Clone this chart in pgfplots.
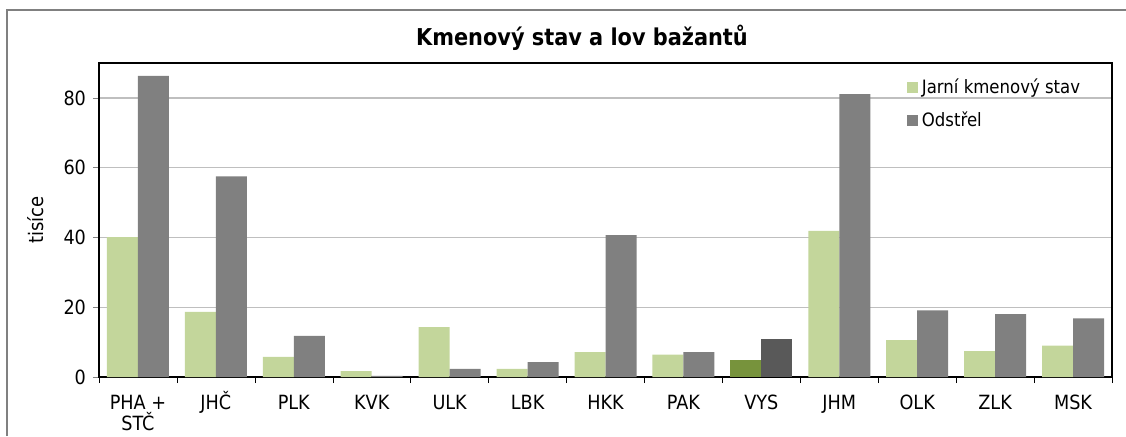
\documentclass[border=0pt]{standalone}
\usepackage{pgfplots}
\pgfplotsset{compat=1.18}
\usepackage{fontspec}
\setmainfont{DejaVu Sans Condensed}
\definecolor{lgreen}{HTML}{C3D69B}
\definecolor{dgreen}{HTML}{77933C}
\definecolor{mgray}{HTML}{808080}
\definecolor{dgray}{HTML}{595959}
\definecolor{gridc}{HTML}{BFBFBF}
\newcommand{\vp}{\vphantom{Č}}
\begin{document}
\begin{tikzpicture}[x=1pt,y=1pt]
\useasboundingbox (0,0) rectangle (563,218);
\draw[color=mgray,line width=0.8pt] (3.5,0) -- (3.5,213) -- (563,213);
\node[font=\bfseries\fontsize{11.6}{13}\selectfont] at (291,199) {Kmenový stav a lov bažantů};
\begin{axis}[
  at={(49.5pt,29.5pt)}, anchor=south west,
  scale only axis, width=506.5pt, height=157pt,
  xmin=-0.5, xmax=12.5, ymin=0, ymax=90,
  /pgf/number format/assume math mode=true,
  xtick={0,...,12},
  xticklabels={{\vp PHA +\\STČ},JHČ,\vp PLK,\vp KVK,\vp ULK,\vp LBK,\vp HKK,\vp PAK,\vp VYS,\vp JHM,\vp OLK,\vp ZLK,\vp MSK},
  xticklabel style={align=center, font=\fontsize{9.8}{8.4}\selectfont, yshift=-3pt, inner sep=1pt},
  major x tick style={draw=none},
  minor xtick={-0.5,0.5,...,12.5},
  minor x tick style={black},
  minor tick length=3pt,
  ytick={0,20,40,60,80},
  yticklabel style={font=\fontsize{9.8}{11}\selectfont},
  major tick length=3pt,
  tick align=outside,
  xtick pos=bottom, ytick pos=left,
  ymajorgrids, grid style={gridc, line width=0.6pt},
  axis line style={black, line width=0.6pt},
  ylabel={tisíce}, ylabel style={font=\fontsize{9}{10}\selectfont},
  every axis y label/.style={at={(ticklabel cs:0.5)}, rotate=90, anchor=near ticklabel},
  ylabel shift=3pt,
  bar width=15.5pt,
  legend style={draw=none, fill=none, at={(0.795,0.97)}, anchor=north west,
    font=\fontsize{9.2}{10}\selectfont, row sep=3.5pt, inner sep=1pt},
  legend cell align=left,
  legend image code/.code={\fill (0pt,-2.8pt) rectangle (5.6pt,2.8pt);},
]
\addplot[ybar, bar shift=-7.75pt, fill=lgreen, draw=none] coordinates {
(0,40.1) (1,18.7) (2,5.8) (3,1.7) (4,14.3) (5,2.3) (6,7.1) (7,6.4) (9,41.9) (10,10.6) (11,7.4) (12,9.0)};
\addlegendentry{Jarní kmenový stav}
\addplot[ybar, bar shift=7.75pt, fill=mgray, draw=none] coordinates {
(0,86.3) (1,57.5) (2,11.8) (3,0.3) (4,2.3) (5,4.3) (6,40.7) (7,7.1) (9,81.1) (10,19.1) (11,18.0) (12,16.8)};
\addlegendentry{Odstřel}
\addplot[ybar, bar shift=-7.75pt, fill=dgreen, draw=none, forget plot] coordinates {(8,4.9)};
\addplot[ybar, bar shift=7.75pt, fill=dgray, draw=none, forget plot] coordinates {(8,10.9)};
\end{axis}
\end{tikzpicture}
\end{document}
